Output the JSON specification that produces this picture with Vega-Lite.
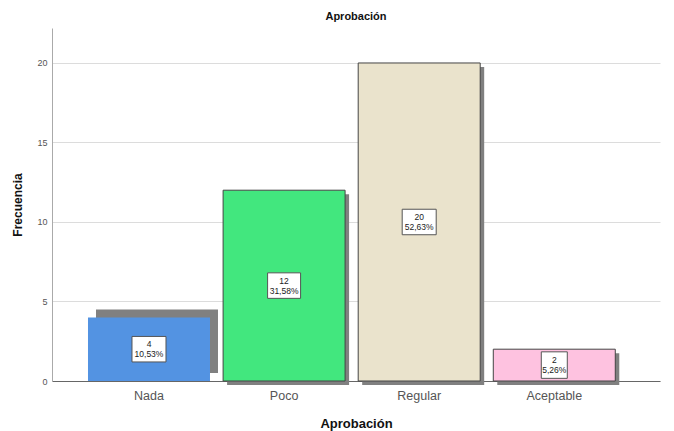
{
  "$schema": "https://vega.github.io/schema/vega-lite/v6.json",
  "autosize": "none",
  "width": 608,
  "height": 353,
  "padding": {"left": 52, "top": 28, "right": 14, "bottom": 50},
  "background": "white",
  "config": {
    "font": "Liberation Sans",
    "view": {"stroke": null}
  },
  "title": {
    "text": "Aprobación",
    "fontSize": 11,
    "fontWeight": "bold",
    "color": "#111",
    "anchor": "middle",
    "offset": 6
  },
  "data": {
    "values": [
      {"cat": "Nada", "n": 4, "etiqueta": "4\n10,53%"},
      {"cat": "Poco", "n": 12, "etiqueta": "12\n31,58%"},
      {"cat": "Regular", "n": 20, "etiqueta": "20\n52,63%"},
      {"cat": "Aceptable", "n": 2, "etiqueta": "2\n5,26%"}
    ]
  },
  "encoding": {
    "x": {
      "field": "cat",
      "type": "nominal",
      "sort": ["Nada", "Poco", "Regular", "Aceptable"],
      "scale": {"paddingInner": 0.097, "paddingOuter": 0.2987, "align": 0.446},
      "axis": {
        "title": "Aprobación",
        "titleFontSize": 13,
        "titleFontWeight": "bold",
        "titleColor": "#111",
        "titlePadding": 16,
        "labelAngle": 0,
        "labelFontSize": 12.5,
        "labelColor": "#555",
        "labelPadding": 8,
        "ticks": false,
        "domainColor": "#666",
        "grid": false
      }
    }
  },
  "layer": [
    {
      "layer": [
        {
          "transform": [{"filter": "datum.cat == 'Nada'"}],
          "mark": {"type": "bar", "color": "#808080", "xOffset": 8, "x2Offset": 8, "yOffset": -8, "y2Offset": -8},
          "encoding": {
            "y": {
              "field": "n",
              "type": "quantitative",
              "scale": {"domain": [0, 22.2], "nice": false},
              "axis": {
                "title": "Frecuencia",
                "titleFontSize": 12,
                "titleFontWeight": "bold",
                "titleColor": "#111",
                "titlePadding": 12,
                "values": [0, 5, 10, 15, 20],
                "labelFontSize": 9,
                "labelColor": "#555",
                "labelPadding": 5,
                "ticks": false,
                "domainColor": "#aaa",
                "gridColor": "#dcdcdc",
                "gridWidth": 1
              }
            }
          }
        },
        {
          "transform": [{"filter": "datum.cat != 'Nada'"}],
          "mark": {"type": "bar", "color": "#808080", "xOffset": 4, "x2Offset": 4, "yOffset": 4, "y2Offset": 4},
          "encoding": {
            "y": {"field": "n", "type": "quantitative"}
          }
        },
        {
          "mark": {"type": "bar", "strokeWidth": 1},
          "encoding": {
            "y": {"field": "n", "type": "quantitative"},
            "color": {
              "field": "cat",
              "type": "nominal",
              "scale": {
                "domain": ["Nada", "Poco", "Regular", "Aceptable"],
                "range": ["#5393E2", "#42E77E", "#EAE3CC", "#FEC2E0"]
              },
              "legend": null
            },
            "stroke": {
              "condition": {"test": "datum.cat == 'Nada'", "value": null},
              "value": "#444"
            }
          }
        }
      ]
    },
    {
      "encoding": {
        "y": {
          "field": "n",
          "type": "quantitative",
          "scale": {"domain": [0, 44.4], "nice": false},
          "axis": null
        }
      },
      "layer": [
        {
          "mark": {"type": "point", "filled": true, "fill": "white", "stroke": "#555", "strokeWidth": 1, "opacity": 1, "size": 1156},
          "encoding": {
            "shape": {
              "field": "cat",
              "type": "nominal",
              "scale": {
                "domain": ["Nada", "Poco", "Regular", "Aceptable"],
                "range": [
                  "M-1,-0.75H1V0.75H-1Z",
                  "M-0.97,-0.75H0.97V0.75H-0.97Z",
                  "M-1,-0.75H1V0.75H-1Z",
                  "M-0.765,-0.78H0.765V0.78H-0.765Z"
                ]
              },
              "legend": null
            }
          }
        },
        {
          "mark": {"type": "text", "fontSize": 8.5, "lineHeight": 10, "baseline": "middle", "align": "center", "color": "#222", "lineBreak": "\n", "dy": -5},
          "encoding": {
            "text": {"field": "etiqueta", "type": "nominal"}
          }
        }
      ]
    }
  ],
  "resolve": {"scale": {"y": "independent"}}
}
